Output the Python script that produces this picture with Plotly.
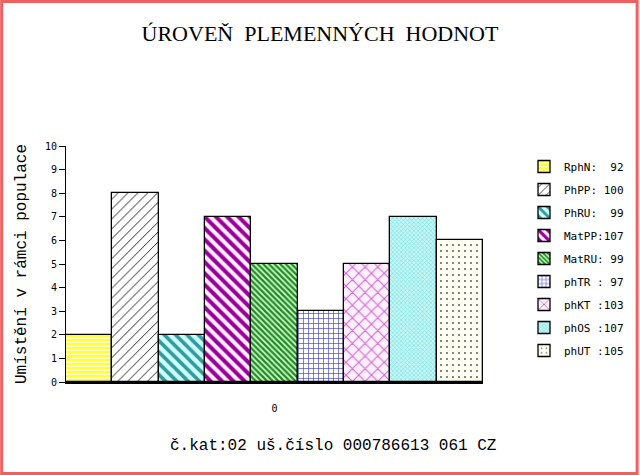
import plotly.graph_objects as go

# data
categories = ["0"]
names = ["RphN:  92", "PhPP: 100", "PhRU:  99", "MatPP:107", "MatRU: 99",
         "phTR : 97", "phKT :103", "phOS :107", "phUT :105"]
values = [2, 8, 2, 7, 5, 3, 5, 7, 6]

# fill patterns per series (shape, fg, bg, size, solidity)
patterns = [
    ("-", "#FFFF33", "#FFFFCC", 4, 0.5),
    ("/", "#000000", "#FFFFFF", 7, 0.12),
    ("\\", "#339999", "#CCFFFF", 8, 0.45),
    ("\\", "#990099", "#FFEEFF", 8, 0.5),
    ("\\", "#228822", "#CCFFCC", 4, 0.55),
    ("+", "#4444CC", "#FFFFFF", 5, 0.25),
    ("x", "#CC66CC", "#FFF0FF", 9, 0.22),
    ("x", "#77E0E0", "#C4F6F6", 3, 0.35),
    (".", "#555555", "#FFFFF4", 6, 0.08),
]

L, R, T, B = 66, 484, 146, 382


def px_x(p):
    return (p - L) / (R - L)


def px_y(p):
    return (B - p) / (B - T)


fig = go.Figure()
for i in range(len(names)):
    shape, fg, bg, size, sol = patterns[i]
    fig.add_trace(go.Bar(
        x=categories, y=[values[i]], name=names[i], legendgroup=str(i),
        marker=dict(color=bg, line=dict(color="black", width=1.3),
                    pattern=dict(shape=shape, fgcolor=fg, bgcolor=bg,
                                 fgopacity=1, size=size, solidity=sol)),
    ))

fig.update_layout(
    width=640, height=475,
    margin=dict(l=L, r=640 - R, t=T, b=475 - B),
    paper_bgcolor="white", plot_bgcolor="white",
    barmode="group", bargap=0, bargroupgap=0,
    title=dict(text="ÚROVEŇ  PLEMENNÝCH  HODNOT", x=0.5, xanchor="center",
               y=1 - 33 / 475, yanchor="middle",
               font=dict(family="Liberation Serif", size=22, color="black")),
    font=dict(family="Liberation Mono", color="black"),
    legend=dict(x=px_x(524), y=px_y(152), xanchor="left", yanchor="top",
                traceorder="grouped", tracegroupgap=4,
                font=dict(family="DejaVu Sans Mono", size=11, color="black")),
    showlegend=True,
)

fig.update_xaxes(type="category", range=[-0.5, 0.5], showline=True,
                 linecolor="black", linewidth=2, ticks="", showgrid=False,
                 ticklabelstandoff=16,
                 tickfont=dict(family="DejaVu Sans Mono", size=10))
fig.update_yaxes(range=[0, 10], dtick=1, showline=True, linecolor="black",
                 linewidth=1, ticks="outside", ticklen=6, tickcolor="black",
                 showgrid=False, zeroline=False,
                 tickfont=dict(family="DejaVu Sans Mono", size=10),
                 title=dict(text="Umístění v rámci populace", standoff=14,
                            font=dict(family="Liberation Mono", size=16)))

fig.add_annotation(text="č.kat:02 uš.číslo 000786613 061 CZ",
                   xref="paper", yref="paper", x=px_x(334), y=px_y(457),
                   showarrow=False,
                   font=dict(family="Liberation Mono", size=16, color="black"))

# salmon frame around the whole picture
fig.add_shape(type="rect", xref="paper", yref="paper",
              x0=px_x(1.5), x1=px_x(638.5), y0=px_y(1.5), y1=px_y(473.5),
              line=dict(color="#F06060", width=3), layer="above")

page_css = ("var s=document.createElement('style');"
            "s.textContent='html,body{margin:0;padding:0;overflow:hidden;"
            "width:640px;height:475px}';"
            "document.head.appendChild(s);")

fig.write_html("out.html", config={"displayModeBar": False,
                                   "responsive": False},
               post_script=page_css)
